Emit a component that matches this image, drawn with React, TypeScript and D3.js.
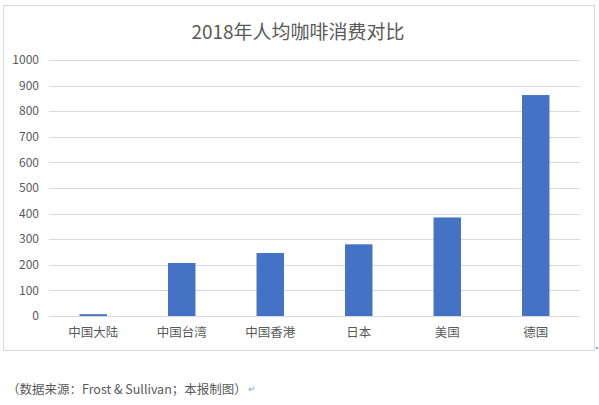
import React from "react";
import * as d3 from "d3";

const categories = ["中国大陆", "中国台湾", "中国香港", "日本", "美国", "德国"];
const values = [7, 207, 246, 280, 385, 863];
const yTicks = [0, 100, 200, 300, 400, 500, 600, 700, 800, 900, 1000];
const title = "2018年人均咖啡消费对比";
const caption = "（数据来源：Frost & Sullivan；本报制图）";

const W = 599;
const H = 405;
const FONT = "'Noto Sans CJK SC', 'Noto Sans', sans-serif";
const TEXT = "#595959";

export default function App() {
  const x = d3
    .scaleBand<string>()
    .domain(categories)
    .range([49, 580])
    .paddingInner(0.69)
    .paddingOuter(0.345);
  const y = d3.scaleLinear().domain([0, 1000]).range([316, 60]);

  return (
    <svg
      width={W}
      height={H}
      style={{ position: "absolute", left: 0, top: 0, background: "#fff" }}
      fontFamily={FONT}
    >
      <rect x={0} y={0} width={W} height={H} fill="#fff" />
      <rect x={3.5} y={5.5} width={591} height={345} fill="#fff" stroke="#d9d9d9" strokeWidth={1} />
      <text x={298} y={39} textAnchor="middle" fontSize={19} fill={TEXT}>
        {title}
      </text>
      {yTicks.map((t) => (
        <g key={t}>
          <line x1={49} x2={580} y1={Math.round(y(t)) + 0.5} y2={Math.round(y(t)) + 0.5} stroke="#d9d9d9" strokeWidth={1} />
          <text x={39} y={y(t)} dy="0.35em" textAnchor="end" fontSize={12} fill={TEXT}>
            {t}
          </text>
        </g>
      ))}
      {categories.map((c, i) => (
        <g key={c}>
          <rect x={x(c)} y={y(values[i])} width={x.bandwidth()} height={y(0) - y(values[i])} fill="#4472C4" />
          <text x={(x(c) ?? 0) + x.bandwidth() / 2} y={333} dy="0.35em" textAnchor="middle" fontSize={12.5} fill={TEXT}>
            {c}
          </text>
        </g>
      ))}
      <text x={7} y={390} dy="0.35em" fontSize={12.5} fill={TEXT}>
        {caption}
      </text>
      <text x={248} y={389} dy="0.35em" fontSize={9} fill="#7fa3d6">
        ↵
      </text>
      <rect x={596} y={347} width={2} height={2} fill="#7fa3d6" />
    </svg>
  );
}
